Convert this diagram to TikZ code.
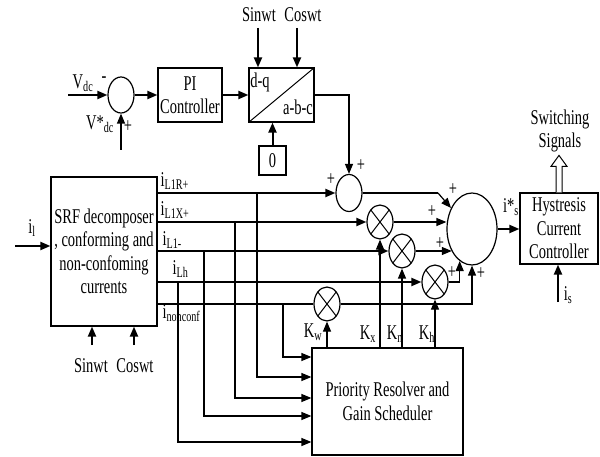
\documentclass[tikz,border=0pt]{standalone}
\usepackage{fontspec}
\setmainfont{Liberation Serif}[FakeStretch=0.69]
\usetikzlibrary{arrows.meta,calc,shapes.geometric}

\tikzset{
  tip/.style={-{Triangle[length=10pt,width=8pt]}},
  sig/.style={line width=2pt},
  wire/.style={line width=1.2pt},
  blk/.style={draw,line width=1.2pt,align=center,inner sep=0pt},
  summer/.style={draw,ellipse,line width=1.2pt,inner sep=0pt,minimum width=26pt,minimum height=36pt},
  mult/.style={summer,minimum height=34pt,
    path picture={\draw[line width=1pt](path picture bounding box.north west)to(path picture bounding box.south east);
                  \draw[line width=1pt](path picture bounding box.south west)to(path picture bounding box.north east);}},
}

\begin{document}
\begin{tikzpicture}[x=1pt,y=-1pt,font=\fontsize{21}{23.5}\selectfont]
        \useasboundingbox (0,0) rectangle (600,457);
        % blocks
        \node[blk,minimum width=106pt,minimum height=149pt](srf)at(104,251.5){SRF decomposer\\, conforming and\\non-confoming\\currents};
        \node[blk,minimum width=64pt,minimum height=54pt](pi)at(190,95){PI\\Controller};
        \node[blk,minimum width=65pt,minimum height=54pt](dq)at(281.5,95){};
        \node[blk,minimum width=27pt,minimum height=29pt](zero)at(272.5,160.5){0};
        \node[blk,minimum width=151pt,minimum height=107pt](prio)at(387.5,401.5){Priority Resolver and\\Gain Scheduler};
        \node[blk,minimum width=78pt,minimum height=71pt](hyst)at(559,228.5){Hystresis\\Current\\Controller};
        \draw[line width=1pt](dq.south west)to(dq.north east);
        \node at(260,82){d-q};
        \node at(298,107){a-b-c};
        % summers and multipliers
        \node[summer](sdc)at(121,95){};
        \node[summer,minimum height=37pt](sr)at(349,193){};
        \node[summer,minimum width=50pt,minimum height=72pt](sall)at(472,229){};
        \node[mult](mx)at(380,222){};
        \node[mult](mn)at(402,251){};
        \node[mult](mh)at(435,282){};
        \node[mult](mw)at(327,304){};
        % free ends
        \coordinate(vdc)at(68,95);
        \coordinate(vref)at(121,150);
        \coordinate(sint)at(258,28);
        \coordinate(cost)at(297,28);
        \coordinate(il)at(15,246);
        \coordinate(sinb)at(92,345);
        \coordinate(cosb)at(134,345);
        \coordinate(isig)at(558,302);
        \coordinate(kink)at(438,193);
        % dc loop
        \draw[sig,tip](vdc)to(sdc.west);
        \draw[wire,tip](vref)to(sdc.south);
        \draw[sig,tip](sdc.east)to(pi.west);
        \draw[sig,tip](pi.east)to(dq.west);
        \draw[sig,tip](sint)to(sint|-dq.north);
        \draw[sig,tip](cost)to(cost|-dq.north);
        \draw[sig,tip](zero.north)to(zero.north|-dq.south);
        \draw[wire,tip](dq.east)-|(sr.north);
        \node at(83,83){V\textsubscript{dc}};
        \node at(104,80){-};
        \node at(100,124){V*\textsubscript{dc}};
        \node at(128,127){+};
        \node at(259,15){Sinwt};
        \node at(303,15){Coswt};
        % decomposer inputs
        \draw[sig,tip](il)to(il-|srf.west);
        \draw[sig,tip](sinb)to(sinb|-srf.south);
        \draw[sig,tip](cosb)to(cosb|-srf.south);
        \node at(32,228){i\textsubscript{l}};
        \node at(91,366){Sinwt};
        \node at(135,366){Coswt};
        % current components
        \draw[sig,tip](srf.east|-sr.west)to(sr.west);
        \draw[sig,tip](srf.east|-mx.west)to(mx.west);
        \draw[sig,tip](srf.east|-mn.west)to(mn.west);
        \draw[sig,tip](srf.east|-mh.west)to(mh.west);
        \draw[wire](srf.east|-mw.west)to(mw.west);
        \node[anchor=west]at(157,181){i\textsubscript{L1R+}};
        \node[anchor=west]at(157,210){i\textsubscript{L1X+}};
        \node[anchor=west]at(159,240){i\textsubscript{L1-}};
        \node[anchor=west]at(169,269){i\textsubscript{Lh}};
        \node[anchor=west]at(159,313){i\textsubscript{nonconf}};
        % taps to scheduler
        \foreach \x/\n/\y in {257/sr/377,235/mx/398,204/mn/416,178/mh/442,283/mw/357}
        {
        \draw[wire,tip](\x,0|-\n.west)to(\x,\y)to(prio.west|-0,\y);
        }
        % gains
        \foreach \n in {mw,mx,mn,mh}
        {
        \draw[wire,tip](prio.north-|\n.south)to(\n.south);
        }
        \node at(313,332){K\textsubscript{w}};
        \node at(368,334){K\textsubscript{x}};
        \node at(395,334){K\textsubscript{n}};
        \node at(427,334){K\textsubscript{h}};
        % summing
        \draw[wire](sr.east)to(kink);
        \draw[wire,tip](kink)to(sall.135);
        \draw[wire,tip](mx.east)to(mx.east-|sall.west);
        \draw[wire,tip](mn.east)to(mn.east-|sall.228);
        \draw[wire,tip](mh.east)-|(sall.249);
        \draw[wire,tip](mw.east)-|(sall.south);
        \node at(331,180){+};
        \node at(361,166){+};
        \node at(453,190){+};
        \node at(432,212){+};
        \node at(440,244){+};
        \node at(452,273){+};
        \node at(481,274){+};
        % hysteresis
        \draw[sig,tip](sall.east)to(sall.east-|hyst.west);
        \node at(511,207){i*\textsubscript{s}};
        \draw[sig,tip](isig)to(isig|-hyst.south);
        \node at(568,295){i\textsubscript{s}};
        \draw[line width=1pt,fill=white]($(hyst.north)+(-3,0)$)--++(0,-26)--++(-5,0)--($(hyst.north)+(0,-37)$)--++(8,11)--++(-5,0)--($(hyst.north)+(3,0)$);
        \node at(560,119){Switching};
        \node at(560,142){Signals};
    \end{tikzpicture}
\end{document}
